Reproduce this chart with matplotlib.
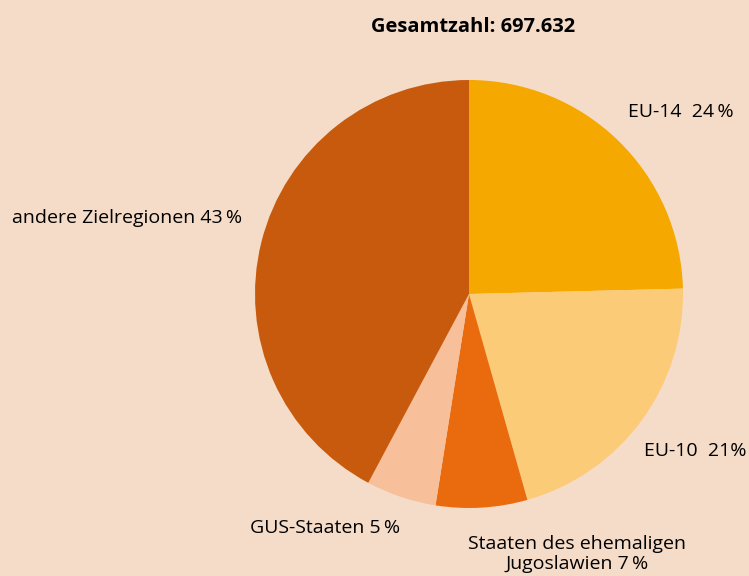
import matplotlib
matplotlib.use("Agg")
import matplotlib.pyplot as plt

plt.rcParams['font.family'] = ['Open Sans', 'DejaVu Sans']

# data (slice sizes, labels as printed)
regions = ["EU-14", "EU-10", "Staaten des ehemaligen Jugoslawien", "GUS-Staaten", "andere Zielregionen"]
shares = [24.6, 21.0, 6.9, 5.3, 42.2]
pct_labels = [24, 21, 7, 5, 43]
colors = ["#F5A800", "#FCCB78", "#EA6A0E", "#F7BF9A", "#C85A0E"]
total = "697.632"

bg = "#F5DCC8"
W, H = 749, 576
fig = plt.figure(figsize=(W / 100, H / 100), dpi=100, facecolor=bg)

# pie centre (469, 294) px, radius 214 px
cx, cy, r = 469, 294, 214
ax = fig.add_axes([(cx - r) / W, (H - cy - r) / H, 2 * r / W, 2 * r / H])
ax.set_facecolor(bg)
ax.pie(shares, colors=colors, startangle=90, counterclock=False,
       radius=1, wedgeprops=dict(linewidth=0))
ax.set_xlim(-1, 1)
ax.set_ylim(-1, 1)
ax.axis("off")

def px(x, y):
    return x / W, 1 - y / H

fs = 14
th = "\u2009"
fig.text(*px(473, 27), f"Gesamtzahl: {total}", ha="center", va="center",
         fontsize=14.5, fontweight="bold")
fig.text(*px(628, 112), f"{regions[0]}  {pct_labels[0]}{th}%", ha="left", va="center", fontsize=fs)
fig.text(*px(746, 451), f"{regions[1]}  {pct_labels[1]}%", ha="right", va="center", fontsize=fs)
fig.text(*px(577, 554), f"Staaten des ehemaligen\nJugoslawien {pct_labels[2]}{th}%",
         ha="center", va="center", fontsize=fs, linespacing=1.15)
fig.text(*px(250, 528), f"{regions[3]} {pct_labels[3]}{th}%", ha="left", va="center", fontsize=fs)
fig.text(*px(12, 218), f"{regions[4]} {pct_labels[4]}{th}%", ha="left", va="center", fontsize=fs)

fig.savefig("out.png", dpi=100, facecolor=bg)
